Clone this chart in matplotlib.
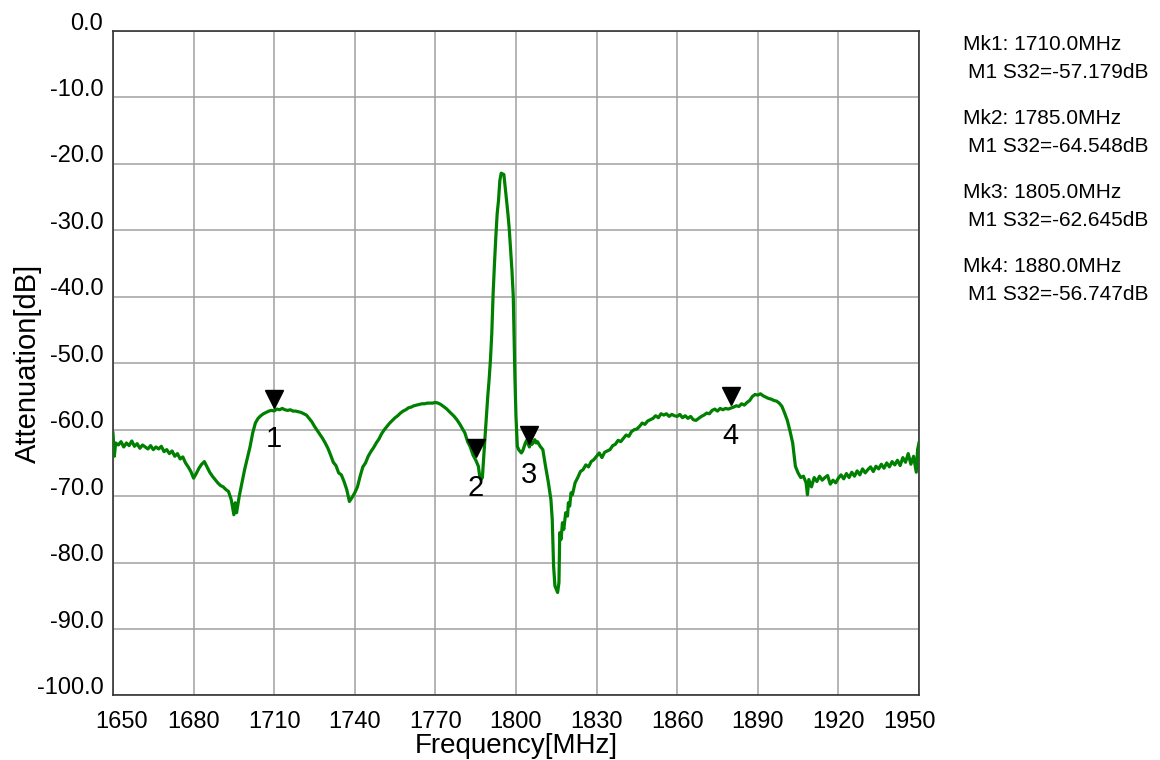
import matplotlib
matplotlib.use('Agg')
import matplotlib.pyplot as plt
import matplotlib.transforms as mtransforms
import numpy as np

plt.rcParams['font.family'] = ['Liberation Sans', 'DejaVu Sans']

freq = [1650, 1650.5, 1651, 1652, 1653, 1654, 1655, 1656, 1657, 1658, 1659, 1660,
        1661, 1662, 1663, 1664, 1665, 1666, 1667, 1668, 1669, 1670, 1671, 1672,
        1673, 1674, 1675, 1676, 1677, 1678, 1679, 1680, 1681, 1682, 1683, 1684,
        1685, 1686, 1687, 1688, 1689, 1690, 1691, 1692, 1693, 1694, 1695, 1695.5,
        1696, 1697, 1698, 1699, 1700, 1701, 1702, 1703, 1704, 1705, 1706, 1707,
        1708, 1709, 1710, 1711, 1712, 1713, 1714, 1715, 1716, 1717, 1718, 1719,
        1720, 1721, 1722, 1723, 1724, 1725, 1726, 1727, 1728, 1729, 1730, 1731,
        1732, 1733, 1734, 1735, 1736, 1737, 1738, 1739, 1740, 1741, 1742, 1743,
        1744, 1745, 1746, 1747, 1748, 1749, 1750, 1751, 1752, 1753, 1754, 1755,
        1756, 1757, 1758, 1759, 1760, 1761, 1762, 1763, 1764, 1765, 1766, 1767,
        1768, 1769, 1770, 1771, 1772, 1773, 1774, 1775, 1776, 1777, 1778, 1779,
        1780, 1781, 1782, 1783, 1784, 1785, 1786, 1786.5, 1787, 1787.5, 1788, 1788.5,
        1789, 1789.5, 1790, 1790.5, 1791, 1791.5, 1792, 1792.5, 1793, 1793.5, 1794, 1794.5,
        1795, 1795.5, 1796, 1796.5, 1797, 1797.5, 1798, 1798.5, 1799, 1799.3, 1799.6, 1800,
        1800.5, 1801, 1802, 1802.5, 1803, 1803.5, 1804, 1805, 1805.5, 1806, 1807, 1807.5,
        1808, 1809, 1810, 1811, 1812, 1813, 1813.5, 1814, 1814.5, 1815, 1815.5, 1816,
        1816.3, 1816.8, 1817.3, 1817.8, 1818.5, 1819.2, 1819.5, 1820, 1820.5, 1821, 1822, 1823,
        1824, 1825, 1826, 1827, 1828, 1829, 1830, 1831, 1832, 1833, 1834, 1835,
        1836, 1837, 1838, 1839, 1840, 1841, 1842, 1843, 1844, 1845, 1846, 1847,
        1848, 1849, 1850, 1851, 1852, 1853, 1854, 1855, 1856, 1857, 1858, 1859,
        1860, 1861, 1862, 1863, 1864, 1865, 1866, 1867, 1868, 1869, 1870, 1871,
        1872, 1873, 1874, 1875, 1876, 1877, 1878, 1879, 1880, 1881, 1882, 1883,
        1884, 1885, 1886, 1887, 1888, 1889, 1890, 1891, 1892, 1893, 1894, 1895,
        1896, 1897, 1898, 1899, 1900, 1901, 1902, 1903, 1903.5, 1904, 1905, 1906,
        1907, 1908, 1908.5, 1909, 1910, 1911, 1912, 1913, 1914, 1915, 1916, 1917,
        1918, 1919, 1920, 1921, 1922, 1923, 1924, 1925, 1926, 1927, 1928, 1929,
        1930, 1931, 1932, 1933, 1934, 1935, 1936, 1937, 1938, 1939, 1940, 1941,
        1942, 1943, 1944, 1945, 1946, 1947, 1948, 1949, 1949.5, 1950]
s32 = [-60.5, -64.0, -62.0, -62.3, -61.8, -62.6, -62.0, -62.4, -61.7, -62.5, -62.1, -62.8,
       -62.3, -62.6, -62.9, -62.4, -63.0, -62.6, -62.9, -62.5, -63.3, -63.0, -63.6, -63.2,
       -64.0, -63.6, -64.4, -64.1, -65.0, -65.6, -66.3, -67.3, -66.6, -65.8, -65.2, -64.8,
       -65.6, -66.4, -67.0, -67.5, -68.0, -68.4, -68.6, -69.0, -69.3, -70.5, -72.8, -71.0,
       -72.5, -70.0, -68.0, -66.0, -64.3, -62.6, -60.5, -59.0, -58.3, -57.9, -57.6, -57.4,
       -57.2, -57.1, -57.18, -56.9, -57.0, -56.8, -57.0, -57.1, -57.0, -57.2, -57.2, -57.3,
       -57.4, -57.6, -57.8, -58.3, -58.8, -59.5, -60.1, -60.7, -61.3, -62.0, -62.8, -63.8,
       -64.9, -65.4, -66.5, -66.8, -67.8, -69.0, -70.8, -70.2, -69.5, -68.6, -67.0, -65.6,
       -65.0, -64.0, -63.3, -62.7, -62.0, -61.4, -60.6, -60.0, -59.5, -59.0, -58.6, -58.2,
       -57.9, -57.5, -57.2, -57.0, -56.7, -56.6, -56.4, -56.3, -56.2, -56.1, -56.1, -56.0,
       -56.0, -56.0, -55.9, -56.0, -56.2, -56.5, -56.8, -57.2, -57.6, -58.0, -58.5, -59.1,
       -59.8, -60.5, -61.8, -62.6, -63.8, -64.55, -65.5, -67.0, -67.5, -67.2, -64.0, -61.0,
       -58.0, -55.0, -52.5, -49.5, -45.5, -39.5, -35.0, -31.0, -27.5, -25.5, -22.5, -21.4,
       -21.5, -21.6, -23.5, -25.5, -27.5, -29.8, -33.0, -36.0, -40.0, -46.0, -52.0, -58.0,
       -62.5, -63.0, -63.5, -63.2, -62.6, -62.0, -61.6, -62.6, -61.8, -62.2, -61.5, -62.0,
       -61.8, -62.5, -63.0, -65.5, -67.8, -70.5, -73.5, -80.5, -83.5, -84.0, -84.5, -83.0,
       -75.5, -76.5, -74.0, -75.0, -72.5, -73.0, -71.0, -71.5, -69.5, -69.8, -68.0, -67.2,
       -66.3, -66.0, -65.3, -65.6, -64.8, -64.5, -64.0, -63.5, -64.2, -63.4, -63.2, -63.0,
       -62.4, -62.2, -61.6, -61.8, -61.3, -60.8, -61.0, -60.3, -60.0, -59.9, -59.5, -59.0,
       -59.2, -58.7, -58.5, -58.3, -57.9, -58.2, -57.6, -57.8, -57.6, -58.0, -57.7, -57.9,
       -58.0, -57.7, -58.2, -57.9, -58.3, -58.0, -58.5, -58.6, -58.3, -58.0, -57.8, -57.5,
       -57.6, -57.1, -56.9, -57.2, -56.8, -57.0, -56.8, -56.9, -56.75, -56.6, -56.4, -56.5,
       -56.1, -56.3, -55.9, -55.6, -55.0, -54.7, -54.8, -54.6, -54.9, -55.1, -55.3, -55.4,
       -55.6, -55.7, -56.0, -56.5, -57.5, -58.6, -60.2, -62.0, -63.8, -65.5, -66.5, -67.2,
       -67.0, -68.0, -69.8, -67.5, -68.6, -67.2, -67.8, -67.0, -67.6, -67.2, -66.9, -68.2,
       -67.6, -68.0, -67.3, -66.8, -67.4, -66.6, -67.2, -66.4, -67.0, -66.2, -66.8, -65.9,
       -66.5, -66.0, -65.6, -66.3, -65.5, -65.9, -65.2, -65.8, -65.0, -65.6, -64.8, -65.3,
       -64.6, -65.4, -64.2, -64.9, -63.6, -65.2, -64.0, -66.4, -63.0, -62.0]

# markers
mk_freq = [1710.0, 1785.0, 1805.0, 1880.0]
mk_val = [-57.179, -64.548, -62.645, -56.747]
mk_names = ['1', '2', '3', '4']

xticks = [1650, 1680, 1710, 1740, 1770, 1800, 1830, 1860, 1890, 1920, 1950]
yticks = [0, -10, -20, -30, -40, -50, -60, -70, -80, -90, -100]

fig = plt.figure(figsize=(11.6, 7.6), dpi=100)
ax = fig.add_axes([0.0974, 0.0849, 0.6948, 0.8743])

ax.plot(freq, s32, color='#008000', linewidth=2.3, zorder=3)

ax.set_xlim(1650, 1950)
ax.set_ylim(-100, 0)
ax.set_xticks(xticks)
ax.set_yticks(yticks)
ax.set_xticklabels([str(t) for t in xticks])
ax.set_yticklabels(['%.1f' % t for t in yticks])
ax.grid(True, color='#a0a0a0', linewidth=1.1)
ax.set_axisbelow(True)
ax.tick_params(length=0, labelsize=17, colors='black')
ax.tick_params(axis='x', pad=11)
ax.tick_params(axis='y', pad=7)
for s in ax.spines.values():
    s.set_color('#333333')
    s.set_linewidth(1.2)

# y labels sit a bit above their grid lines
up = mtransforms.ScaledTranslation(0, 10 / 100, fig.dpi_scale_trans)
for lab in ax.get_yticklabels():
    lab.set_transform(lab.get_transform() + up)
xl = ax.get_xticklabels()
xl[0].set_transform(xl[0].get_transform() + mtransforms.ScaledTranslation(9 / 100, 0, fig.dpi_scale_trans))
xl[-1].set_transform(xl[-1].get_transform() + mtransforms.ScaledTranslation(-9 / 100, 0, fig.dpi_scale_trans))

ax.set_xlabel('Frequency[MHz]', fontsize=20)
ax.xaxis.set_label_coords(0.5, -0.057)
ax.set_ylabel('Attenuation[dB]', fontsize=21)
ax.yaxis.set_label_coords(-0.088, 0.5)

# marker triangles and numbers
for f, v, n in zip(mk_freq, mk_val, mk_names):
    tri = ax.transData + mtransforms.ScaledTranslation(0, 12 / 100, fig.dpi_scale_trans)
    ax.plot([f], [v], marker='v', markersize=13, color='black', transform=tri, zorder=4)
    ax.annotate(n, (f, v), xytext=(0, -28), textcoords='offset pixels',
                ha='center', va='center', fontsize=21, color='black', zorder=4)

# marker readout on the right
for i, (f, v) in enumerate(zip(mk_freq, mk_val)):
    y0 = 760 - 44 - i * 74
    fig.text(963 / 1160, y0 / 760, 'Mk%d: %.1fMHz' % (i + 1, f), fontsize=15, va='center', ha='left')
    fig.text(968 / 1160, (y0 - 28) / 760, 'M1 S32=%.3fdB' % v, fontsize=15, va='center', ha='left')

fig.savefig('out.png', dpi=100, facecolor='white')
